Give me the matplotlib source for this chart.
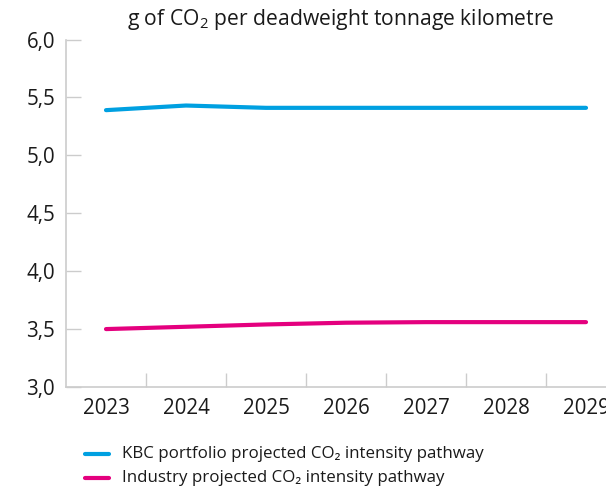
import matplotlib
matplotlib.use("Agg")
import matplotlib.pyplot as plt

FONT = "Open Sans"
plt.rcParams["font.family"] = [FONT, "DejaVu Sans"]
plt.rcParams["mathtext.fontset"] = "custom"
plt.rcParams["mathtext.rm"] = FONT
plt.rcParams["mathtext.it"] = FONT
plt.rcParams["mathtext.default"] = "regular"

years = ["2023", "2024", "2025", "2026", "2027", "2028", "2029"]
kbc_portfolio = [5.39, 5.43, 5.41, 5.41, 5.41, 5.41, 5.41]
industry = [3.50, 3.52, 3.54, 3.555, 3.56, 3.56, 3.56]
y_ticks = [3.0, 3.5, 4.0, 4.5, 5.0, 5.5, 6.0]
y_tick_labels = ["3,0", "3,5", "4,0", "4,5", "5,0", "5,5", "6,0"]

BLUE = "#00A0E1"
PINK = "#E4007E"
GRID = "#CCCCCC"
TEXT = "#1A1A1A"

W, H = 606, 490
fig = plt.figure(figsize=(W / 100, H / 100), dpi=100)
left, right, bottom, top = 66, 626, 387, 39.5
ax = fig.add_axes([left / W, (H - bottom) / H, (right - left) / W, (bottom - top) / H])

x = list(range(len(years)))
ax.plot(x, kbc_portfolio, color=BLUE, lw=3.0, solid_capstyle="round", solid_joinstyle="round")
ax.plot(x, industry, color=PINK, lw=3.0, solid_capstyle="round", solid_joinstyle="round")

ax.set_xlim(-0.5, len(years) - 0.5)
ax.set_ylim(3.0, 6.0)
ax.set_yticks(y_ticks)
ax.set_yticklabels(y_tick_labels)

# category labels at band centres, tick marks at band boundaries
ax.set_xticks(x)
ax.set_xticklabels(years)
ax.set_xticks([i + 0.5 for i in x[:-1]], minor=True)
ax.tick_params(axis="x", which="major", length=0, pad=8, labelsize=14.8, labelcolor=TEXT)
ax.tick_params(axis="x", which="minor", direction="in", length=10, width=1, color=GRID)
ax.tick_params(axis="y", which="major", direction="in", length=11, width=1, color=GRID,
               pad=8, labelsize=14.8, labelcolor=TEXT)

for s in ["top", "right"]:
    ax.spines[s].set_visible(False)
for s in ["left", "bottom"]:
    ax.spines[s].set_color(GRID)
    ax.spines[s].set_linewidth(1.2)

fig.text(341 / W, 1 - 19 / H, "g of CO$_2$ per deadweight tonnage kilometre",
         ha="center", va="center", fontsize=15.2, color=TEXT)

# legend
legend_items = [("KBC portfolio projected CO\u2082 intensity pathway", BLUE, 454),
                ("Industry projected CO\u2082 intensity pathway", PINK, 478)]
for label, color, yy in legend_items:
    fig.add_artist(plt.Line2D([85 / W, 109 / W], [1 - yy / H, 1 - yy / H], color=color,
                              lw=3.0, solid_capstyle="round"))
    fig.text(122 / W, 1 - yy / H, label, ha="left", va="center", fontsize=12.2, color=TEXT)

fig.savefig("out.png", dpi=100)
